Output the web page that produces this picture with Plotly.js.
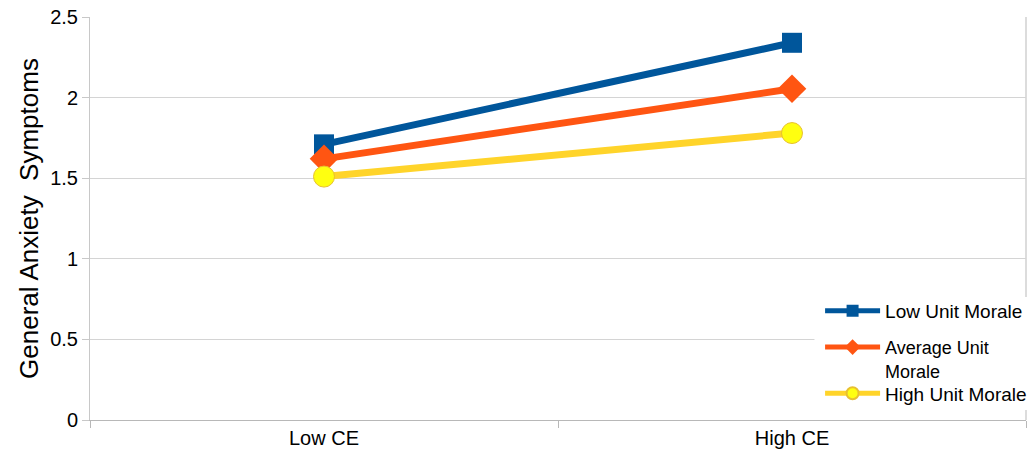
<!DOCTYPE html>
<html>
<head>
<meta charset="utf-8">
<script src="https://cdn.plot.ly/plotly-3.0.1.min.js"></script>
<style>
  html, body { margin: 0; padding: 0; background: #fff; }
  #chart { width: 1034px; height: 461px; }
</style>
</head>
<body>
<div id="chart"></div>
<script>
// Conditions on the x axis
var categories = ['Low CE', 'High CE'];

// General anxiety symptoms by unit morale level
var lowMorale = [1.71, 2.34];
var avgMorale = [1.62, 2.055];
var highMorale = [1.51, 1.78];

var seriesNames = ['Low Unit Morale', 'Average Unit<br>Morale', 'High Unit Morale'];
var yTicks = [0, 0.5, 1, 1.5, 2, 2.5];
var yTickLabels = ['0', '0.5', '1', '1.5', '2', '2.5'];

var FONT = 'Liberation Sans, Arial, sans-serif';

var traces = [
  {
    x: categories, y: lowMorale, name: seriesNames[0], type: 'scatter', mode: 'lines+markers',
    line: { color: '#00569b', width: 7 },
    marker: { symbol: 'square', size: 20, color: '#00569b' },
    legend: 'legend'
  },
  {
    x: categories, y: avgMorale, name: seriesNames[1], type: 'scatter', mode: 'lines+markers',
    line: { color: '#ff5512', width: 7 },
    marker: { symbol: 'diamond', size: 22, color: '#ff5512' },
    legend: 'legend2'
  },
  {
    x: categories, y: highMorale, name: seriesNames[2], type: 'scatter', mode: 'lines+markers',
    line: { color: '#ffd42a', width: 7 },
    marker: { symbol: 'circle', size: 21, color: '#ffff10', line: { color: '#e8c030', width: 1 } },
    legend: 'legend3'
  }
];

function legendAt(yPaper, fontSize) {
  return {
    x: 0.78, xanchor: 'left', xref: 'paper',
    y: yPaper, yanchor: 'top', yref: 'paper',
    bgcolor: 'rgba(0,0,0,0)', borderwidth: 0,
    font: { family: FONT, size: fontSize, color: '#000' },
    itemwidth: 55, itemsizing: 'constant', valign: 'top', tracegroupgap: 0
  };
}

var layout = {
  width: 1034, height: 461,
  margin: { l: 90, r: 8, t: 17, b: 41, autoexpand: false },
  paper_bgcolor: '#fff', plot_bgcolor: '#fff',
  font: { family: FONT, color: '#000' },
  showlegend: true,
  legend: legendAt(0.318, 19),
  legend2: legendAt(0.226, 18),
  legend3: legendAt(0.113, 19),
  xaxis: {
    type: 'category', range: [-0.5, 1.5],
    tickson: 'boundaries', ticks: 'outside', ticklen: 7, tickcolor: '#b8b8b8',
    showgrid: false, zeroline: false, showline: true, linecolor: '#b8b8b8', linewidth: 1,
    tickfont: { family: FONT, size: 20, color: '#000' },
    mirror: false
  },
  yaxis: {
    range: [0, 2.5], tickvals: yTicks, ticktext: yTickLabels,
    ticks: 'outside', ticklen: 7, tickcolor: '#c8c8c8',
    showgrid: true, gridcolor: '#d4d4d4', gridwidth: 1,
    zeroline: false, showline: true, linecolor: '#c8c8c8', linewidth: 1,
    tickfont: { family: FONT, size: 20, color: '#000' },
    title: { text: 'General Anxiety  Symptoms', font: { family: FONT, size: 26, color: '#000' }, standoff: 4 }
  },
  shapes: [
    // right frame edge of the plot area
    { type: 'line', xref: 'paper', yref: 'paper', x0: 1, x1: 1, y0: 0, y1: 1,
      line: { color: '#d0d0d0', width: 1.5 }, layer: 'below' },
    // white panel behind the legend entries
    { type: 'rect', xref: 'paper', yref: 'paper', x0: 0.774, x1: 1.02, y0: 0.025, y1: 0.305,
      fillcolor: '#fff', line: { width: 0 }, layer: 'above' }
  ]
};

Plotly.newPlot('chart', traces, layout, { displayModeBar: false, staticPlot: true });
</script>
</body>
</html>
